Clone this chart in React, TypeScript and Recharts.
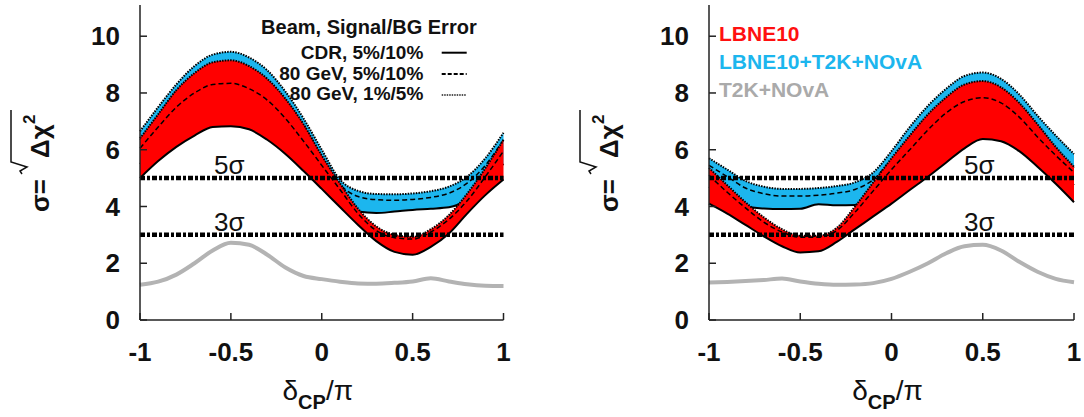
import React from "react";
import { ComposedChart, Area, XAxis, YAxis, ReferenceLine } from "recharts";

const FONT = "'Liberation Sans', Arial, Helvetica, sans-serif";
const RED = "#ff0000";
const BLUE = "#1cb6ee";
const GRAY = "#b3b3b3";
const INK = "#111";
const AXIS = "#222";

// delta_CP / pi
const deltaCP = [-1, -0.9, -0.8, -0.7, -0.6, -0.5, -0.4, -0.3, -0.2, -0.1, 0, 0.1, 0.2, 0.3, 0.4, 0.5, 0.6, 0.7, 0.8, 0.9, 1];

// left panel: LBNE10 alone (red) and with T2K+NOvA (blue)
const leftRedLow = [5.0, 5.6, 6.1, 6.5, 6.8, 6.83, 6.72, 6.35, 5.85, 5.25, 4.62, 3.98, 3.35, 2.78, 2.4, 2.3, 2.58, 3.05, 3.75, 4.4, 4.95];
const leftRedDash = [6.05, 6.8, 7.5, 8.0, 8.3, 8.34, 8.15, 7.75, 7.1, 6.3, 5.45, 4.6, 3.75, 3.15, 2.9, 2.85, 3.1, 3.55, 4.2, 5.05, 5.95];
const leftRedHigh = [6.4, 7.25, 8.1, 8.7, 9.08, 9.15, 8.95, 8.5, 7.8, 6.9, 5.8, 4.82, 3.92, 3.3, 3.0, 2.93, 3.2, 3.7, 4.45, 5.35, 6.35];
const leftBlueLow = [5.5, 6.1, 6.6, 7.0, 7.25, 7.3, 7.15, 6.8, 6.25, 5.6, 4.9, 4.25, 3.82, 3.77, 3.82, 3.88, 3.92, 3.97, 4.25, 4.85, 5.5];
const leftBlueDash = [6.35, 7.2, 8.05, 8.65, 9.0, 9.1, 8.9, 8.45, 7.75, 6.85, 5.75, 4.78, 4.35, 4.24, 4.22, 4.25, 4.32, 4.47, 4.82, 5.45, 6.35];
const leftBlueHigh = [6.65, 7.5, 8.3, 8.95, 9.35, 9.45, 9.25, 8.8, 8.05, 7.1, 6.0, 4.95, 4.55, 4.44, 4.43, 4.46, 4.54, 4.7, 5.05, 5.7, 6.6];
const leftGray = [1.24, 1.35, 1.6, 2.0, 2.45, 2.72, 2.65, 2.3, 1.85, 1.55, 1.44, 1.35, 1.29, 1.28, 1.31, 1.36, 1.47, 1.36, 1.26, 1.21, 1.2];

// right panel
const rightRedLow = [4.1, 3.75, 3.35, 2.95, 2.6, 2.38, 2.42, 2.75, 3.2, 3.65, 4.1, 4.58, 5.05, 5.55, 6.05, 6.38, 6.3, 5.95, 5.4, 4.8, 4.15];
const rightRedDash = [5.1, 4.5, 3.95, 3.45, 3.1, 2.92, 2.92, 3.15, 3.8, 4.55, 5.3, 6.0, 6.7, 7.3, 7.7, 7.83, 7.65, 7.15, 6.45, 5.8, 5.2];
const rightRedHigh = [5.36, 4.75, 4.15, 3.62, 3.2, 2.97, 2.97, 3.25, 4.0, 4.85, 5.7, 6.5, 7.25, 7.85, 8.3, 8.42, 8.2, 7.65, 6.9, 6.1, 5.4];
const rightBlueLow = [4.7, 4.3, 4.0, 3.93, 3.91, 3.92, 4.08, 4.04, 4.05, 4.5, 5.0, 5.6, 6.2, 6.7, 7.0, 7.1, 7.0, 6.7, 6.1, 5.4, 4.75];
const rightBlueDash = [5.45, 5.05, 4.65, 4.45, 4.37, 4.37, 4.4, 4.47, 4.6, 4.95, 5.65, 6.45, 7.2, 7.8, 8.25, 8.38, 8.15, 7.6, 6.85, 6.05, 5.35];
const rightBlueHigh = [5.7, 5.3, 4.9, 4.7, 4.62, 4.62, 4.65, 4.72, 4.85, 5.2, 5.95, 6.8, 7.55, 8.15, 8.6, 8.72, 8.5, 7.95, 7.2, 6.5, 5.85];
const rightGray = [1.32, 1.34, 1.37, 1.41, 1.46, 1.36, 1.28, 1.24, 1.25, 1.3, 1.45, 1.7, 2.0, 2.35, 2.6, 2.65, 2.45, 2.05, 1.7, 1.45, 1.33];

const xTicks = [-1, -0.5, 0, 0.5, 1];
const yTicks = [0, 2, 4, 6, 8, 10];
const sigmaLevels = [
  { y: 5, label: "5σ" },
  { y: 3, label: "3σ" },
];

const leftLegend = [
  { name: "CDR, 5%/10%", dash: undefined, color: "#000" },
  { name: "80 GeV, 5%/10%", dash: "4 2", color: "#000" },
  { name: "80 GeV, 1%/5%", dash: "1.5 1", color: "#555" },
];
const rightLegend = [
  { name: "LBNE10", color: "#ff1010" },
  { name: "LBNE10+T2K+NOvA", color: BLUE },
  { name: "T2K+NOvA", color: "#aaaaaa" },
];

function buildRows(redLow, redDash, redHigh, blueLow, blueDash, blueHigh, gray) {
  return deltaCP.map((x, i) => ({
    x,
    redBand: [redLow[i], redHigh[i]],
    redLow: redLow[i],
    redDash: redDash[i],
    redHigh: redHigh[i],
    blueBand: [blueLow[i], blueHigh[i]],
    blueLow: blueLow[i],
    blueDash: blueDash[i],
    blueHigh: blueHigh[i],
    gray: gray[i],
  }));
}

const leftRows = buildRows(leftRedLow, leftRedDash, leftRedHigh, leftBlueLow, leftBlueDash, leftBlueHigh, leftGray);
const rightRows = buildRows(rightRedLow, rightRedDash, rightRedHigh, rightBlueLow, rightBlueDash, rightBlueHigh, rightGray);

function YTitle(props: any) {
  const vb = props.viewBox;
  const bx = vb.x + vb.width - 91;
  return (
    <g transform={`translate(${bx},212) rotate(-90)`} fill={INK} fontFamily={FONT}>
      <text x={0} y={0} fontSize={26} fontWeight="bold">σ=</text>
      <path d="M38,-27 L41,-29 L45,-22 L50,-38 L102,-38" fill="none" stroke={INK} strokeWidth={1.5} />
      <text x={54} y={0} fontSize={26} fontWeight="bold">Δχ</text>
      <text x={88} y={-14} fontSize={17} fontWeight="bold">2</text>
    </g>
  );
}

function XTitle(props: any) {
  const vb = props.viewBox;
  const cx = vb.x + vb.width / 2 - 4;
  return (
    <text x={cx} y={vb.y + 80} textAnchor="middle" fontFamily={FONT} fill={INK}>
      <tspan fontSize={28}>δ</tspan>
      <tspan fontSize={20} fontWeight="bold" dy={9}>CP</tspan>
      <tspan fontSize={28} dy={-9}>/π</tspan>
    </text>
  );
}

const lineProps = {
  type: "monotone" as const,
  fill: "none",
  dot: false,
  activeDot: false,
  isAnimationActive: false,
};

function Panel({ rows, left, width, plotLeft, plotRight, sigmaX }: any) {
  const tickStyle = { fontFamily: FONT, fontSize: 26, fontWeight: "bold", fill: INK };
  const axisLine = { stroke: AXIS, strokeWidth: 1.5 };
  return (
    <div style={{ position: "absolute", left, top: 0 }}>
      <ComposedChart
        width={width}
        height={417}
        data={rows}
        margin={{ top: 5, right: width - plotRight, bottom: 0, left: 0 }}
      >
        <XAxis
          dataKey="x"
          type="number"
          domain={[-1, 1]}
          ticks={xTicks}
          interval={0}
          height={97}
          tickSize={-7}
          tickMargin={30}
          tick={tickStyle}
          tickFormatter={(v) => String(v)}
          axisLine={axisLine}
          tickLine={axisLine}
          label={(p: any) => <XTitle {...p} />}
        />
        <XAxis
          xAxisId="top"
          orientation="top"
          dataKey="x"
          type="number"
          domain={[-1, 1]}
          ticks={xTicks}
          interval={0}
          height={0}
          tickSize={-7}
          tick={false}
          axisLine={axisLine}
          tickLine={axisLine}
        />
        <YAxis
          type="number"
          domain={[0, 11.1]}
          ticks={yTicks}
          interval={0}
          width={plotLeft}
          tickSize={-7}
          tickMargin={27}
          tick={tickStyle}
          axisLine={axisLine}
          tickLine={axisLine}
          label={(p: any) => <YTitle {...p} />}
        />
        <YAxis
          yAxisId="right"
          orientation="right"
          type="number"
          domain={[0, 11.1]}
          ticks={yTicks}
          interval={0}
          width={0}
          tickSize={-7}
          tick={false}
          axisLine={axisLine}
          tickLine={axisLine}
        />

        {/* LBNE10 + T2K + NOvA */}
        <Area type="monotone" dataKey="blueBand" fill={BLUE} fillOpacity={1} stroke="none" dot={false} activeDot={false} isAnimationActive={false} />
        <Area {...lineProps} dataKey="blueLow" stroke="#000" strokeWidth={2} />
        <Area {...lineProps} dataKey="blueDash" stroke="#000" strokeWidth={1.5} strokeDasharray="5 3" />
        <Area {...lineProps} dataKey="blueHigh" stroke="#000" strokeWidth={2} strokeDasharray="1.5 1.2" />

        {/* LBNE10 alone */}
        <Area type="monotone" dataKey="redBand" fill={RED} fillOpacity={1} stroke="none" dot={false} activeDot={false} isAnimationActive={false} />
        <Area {...lineProps} dataKey="redLow" stroke="#000" strokeWidth={2} />
        <Area {...lineProps} dataKey="redDash" stroke="#000" strokeWidth={1.5} strokeDasharray="5 3" />
        <Area {...lineProps} dataKey="redHigh" stroke="#000" strokeWidth={2} strokeDasharray="1.5 1.2" />

        {/* T2K + NOvA */}
        <Area {...lineProps} dataKey="gray" stroke={GRAY} strokeWidth={4} />

        {sigmaLevels.map((s) => (
          <ReferenceLine
            key={s.label}
            y={s.y}
            stroke="#000"
            strokeWidth={4.5}
            strokeDasharray="5 2 3 2"
            label={(p: any) => (
              <text
                x={p.viewBox.x + sigmaX}
                y={p.viewBox.y - 4}
                fontFamily={FONT}
                fontSize={26}
                fill={INK}
              >
                {s.label}
              </text>
            )}
          />
        ))}
      </ComposedChart>
    </div>
  );
}

export default function App() {
  return (
    <div style={{ position: "absolute", left: 0, top: 0, width: 1084, height: 417, background: "#fff" }}>
      <Panel rows={leftRows} left={0} width={540} plotLeft={140} plotRight={503.5} sigmaX={74} />
      <Panel rows={rightRows} left={540} width={544} plotLeft={169} plotRight={534} sigmaX={255} />
      <svg
        width={1084}
        height={417}
        style={{ position: "absolute", left: 0, top: 0, pointerEvents: "none" }}
        fontFamily={FONT}
        fontWeight="bold"
      >
        <text x={476.7} y={33.5} textAnchor="end" fontSize={20} fill={INK}>
          Beam, Signal/BG Error
        </text>
        {leftLegend.map((d, i) => (
          <g key={d.name}>
            <text x={423.3} y={59 + i * 20.7} textAnchor="end" fontSize={19} fill={INK}>
              {d.name}
            </text>
            <line
              x1={441.7}
              x2={466.7}
              y1={52.7 + i * 21.2}
              y2={52.7 + i * 21.2}
              stroke={d.color}
              strokeWidth={2}
              strokeDasharray={d.dash}
            />
          </g>
        ))}
        {rightLegend.map((d, i) => (
          <text key={d.name} x={719} y={40.5 + i * 28.3} fontSize={21} fill={d.color}>
            {d.name}
          </text>
        ))}
      </svg>
    </div>
  );
}
